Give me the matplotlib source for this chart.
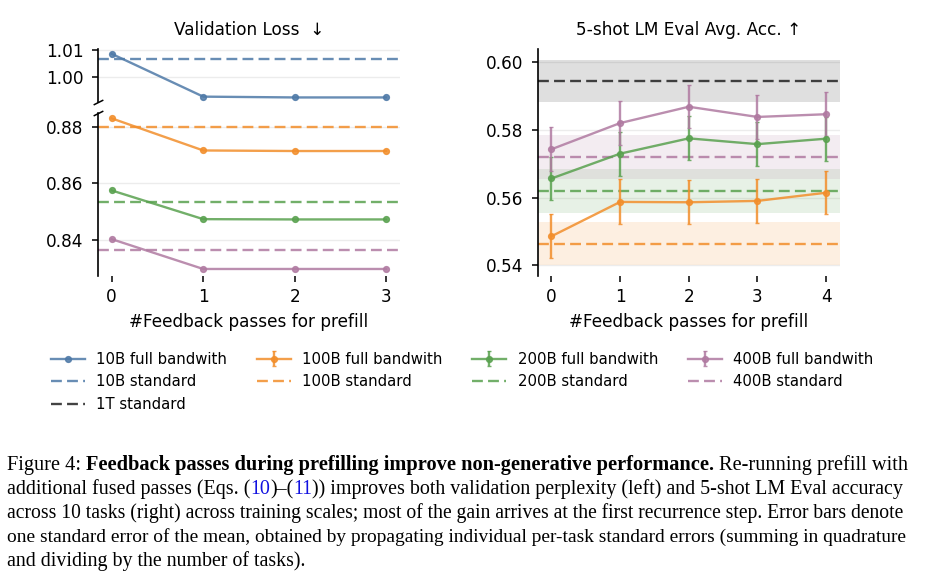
import matplotlib
matplotlib.use("Agg")
import matplotlib.pyplot as plt

# ---- data ----
loss_steps = [0, 1, 2, 3]
loss_full_10b = [1.0085, 0.9925, 0.9922, 0.9922]
loss_full_100b = [0.8831, 0.8717, 0.8715, 0.8715]
loss_full_200b = [0.8575, 0.8473, 0.8472, 0.8472]
loss_full_400b = [0.8402, 0.8296, 0.8296, 0.8296]
loss_std = [1.0067, 0.8801, 0.8533, 0.8363]   # 10B, 100B, 200B, 400B

acc_steps = [0, 1, 2, 3, 4]
acc_full_100b = [0.5486, 0.5587, 0.5586, 0.5590, 0.5614]
acc_err_100b = [0.0064, 0.0066, 0.0065, 0.0065, 0.0064]
acc_full_200b = [0.5656, 0.5729, 0.5774, 0.5757, 0.5773]
acc_err_200b = [0.0064, 0.0065, 0.0065, 0.0065, 0.0065]
acc_full_400b = [0.5742, 0.5819, 0.5867, 0.5837, 0.5845]
acc_err_400b = [0.0065, 0.0064, 0.0063, 0.0064, 0.0065]
acc_std = [0.5464, 0.5619, 0.5719, 0.5943]     # 100B, 200B, 400B, 1T
acc_std_err = [0.0063, 0.0065, 0.0065, 0.0062]

scales = ["10B", "100B", "200B", "400B"]
colors = ["#4e79a7", "#f28e2b", "#59a14f", "#b07aa1"]
DASH = (0, (4.6, 2.2))
FS = 12.2
SERIF = "Liberation Serif"

caption = [
    [("Figure 4: ", "normal", "black"),
     ("Feedback passes during prefilling improve non-generative performance.", "bold", "black"),
     (" Re-running prefill with", "normal", "black")],
    [("additional fused passes (Eqs. (", "normal", "black"), ("10", "normal", "#1010e0"),
     (")\u2013(", "normal", "black"), ("11", "normal", "#1010e0"),
     (")) improves both validation perplexity (left) and 5-shot LM Eval accuracy", "normal", "black")],
    [("across 10 tasks (right) across training scales; most of the gain arrives at the first recurrence step. Error bars denote",
      "normal", "black")],
    [("one standard error of the mean, obtained by propagating individual per-task standard errors (summing in quadrature",
      "normal", "black")],
    [("and dividing by the number of tasks).", "normal", "black")],
]


def style_axis(ax):
    for s in ["top", "right", "bottom"]:
        ax.spines[s].set_visible(False)
    ax.spines["left"].set_linewidth(1.2)
    ax.yaxis.grid(True, color="#ececec", lw=1.0)
    ax.set_axisbelow(True)
    ax.tick_params(axis="y", labelsize=FS, length=4.5, width=1.1, pad=6)
    ax.tick_params(axis="x", labelsize=FS, length=4.5, width=1.1, pad=4)


def draw_caption(fig, lines, x0, x1, y0, step, base):
    # each full line is fitted to the text block width (justified look)
    r = fig.canvas.get_renderer()
    W, H = fig.bbox.width, fig.bbox.height

    def width(s, size, weight):
        t = fig.text(0, 0, s, fontsize=size, family=SERIF, weight=weight)
        w = t.get_window_extent(r).width
        t.remove()
        return w

    def layout(segs, size):
        sp = width("a a", size, "normal") - width("aa", size, "normal")
        parts, x = [], 0.0
        for text, weight, color in segs:
            if text.startswith(" "):
                x += sp
            core = text.strip()
            parts.append((x, core, weight, color))
            x += width(core, size, weight)
            if text.endswith(" "):
                x += sp
        return parts, x

    for li, segs in enumerate(lines):
        size = base
        parts, total = layout(segs, size)
        if li < len(lines) - 1:
            size = base * (x1 - x0) / total
            parts, total = layout(segs, size)
        y = 1 - round(y0 + li * step) / H
        for xo, core, weight, color in parts:
            fig.text((x0 + xo) / W, y, core, fontsize=size, family=SERIF,
                     weight=weight, color=color, va="baseline", ha="left")


fig = plt.figure(figsize=(9.27, 5.76), dpi=100)
ax_top = fig.add_axes([0.1057, 0.8234, 0.3258, 0.0910])
ax_bot = fig.add_axes([0.1057, 0.5208, 0.3258, 0.2825], sharex=ax_top)
ax_acc = fig.add_axes([0.5801, 0.5208, 0.3258, 0.3936])

# ---- left: validation loss, broken axis ----
loss_full = [loss_full_10b, loss_full_100b, loss_full_200b, loss_full_400b]
handles = {}
for name, c, vals, std in zip(scales, colors, loss_full, loss_std):
    for ax in (ax_top, ax_bot):
        ln, = ax.plot(loss_steps, vals, marker="o", ms=4.2, lw=1.7, color=c, alpha=0.85,
                      label=f"{name} full bandwith")
        sl = ax.axhline(std, ls=DASH, lw=1.7, color=c, alpha=0.85, label=f"{name} standard")
    handles[name + "full"] = ln
    handles[name + "std"] = sl

for ax in (ax_top, ax_bot):
    style_axis(ax)
ax_top.set_ylim(0.9906, 1.0102)
ax_bot.set_ylim(0.8271, 0.8849)
ax_top.set_yticks([1.00, 1.01])
ax_bot.set_yticks([0.84, 0.86, 0.88])
ax_top.tick_params(axis="x", bottom=False, labelbottom=False)
ax_bot.set_xlim(-0.15, 3.15)
ax_bot.set_xticks(loss_steps)
ax_bot.set_xlabel("#Feedback passes for prefill", fontsize=FS, labelpad=5)
ax_top.set_title("Validation Loss  \u2193", fontsize=FS, pad=10.5)

d = 0.5
kw = dict(marker=[(-1, -d), (1, d)], markersize=7, linestyle="none", color="k",
          mec="k", mew=1.1, clip_on=False)
ax_top.plot([0], [0], transform=ax_top.transAxes, **kw)
ax_bot.plot([0], [1], transform=ax_bot.transAxes, **kw)

# ---- right: 5-shot accuracy ----
std_names = ["100B", "200B", "400B", "1T"]
std_colors = colors[1:] + ["#222222"]
for name, c, m, e in zip(std_names, std_colors, acc_std, acc_std_err):
    ax_acc.axhspan(m - e, m + e, color=c, alpha=0.14, lw=0)
    sl = ax_acc.axhline(m, ls=DASH, lw=1.7, color=c, alpha=0.85, label=f"{name} standard")
    handles[name + "std"] = sl

acc_full = [acc_full_100b, acc_full_200b, acc_full_400b]
acc_err = [acc_err_100b, acc_err_200b, acc_err_400b]
for name, c, vals, errs in zip(scales[1:], colors[1:], acc_full, acc_err):
    eb = ax_acc.errorbar(acc_steps, vals, yerr=errs, marker="o", ms=4.2, lw=1.7,
                         elinewidth=1.7, capsize=1.6, color=c, alpha=0.85,
                         label=f"{name} full bandwith")
    handles[name + "full"] = eb

style_axis(ax_acc)
ax_acc.set_ylim(0.5369, 0.6036)
ax_acc.set_yticks([0.54, 0.56, 0.58, 0.60])
ax_acc.set_xlim(-0.2, 4.2)
ax_acc.set_xticks(acc_steps)
ax_acc.set_xlabel("#Feedback passes for prefill", fontsize=FS, labelpad=5)
ax_acc.set_title("5-shot LM Eval Avg. Acc. \u2191", fontsize=FS, pad=10.5)

# ---- legend ----
order = ["10Bfull", "10Bstd", "1Tstd", "100Bfull", "100Bstd", "200Bfull", "200Bstd",
         "400Bfull", "400Bstd"]
leg_handles = [handles[k] for k in order]
leg_labels = [h.get_label() for h in leg_handles]
fig.legend(leg_handles, leg_labels, loc="upper center", bbox_to_anchor=(0.4984, 0.412),
           ncol=4, frameon=False, fontsize=10.7, handlelength=2.3, handletextpad=0.75,
           columnspacing=2.0, labelspacing=0.5)

draw_caption(fig, caption, 7, 907, 470, 23.9, 14.3)

fig.savefig("out.png", dpi=100)
